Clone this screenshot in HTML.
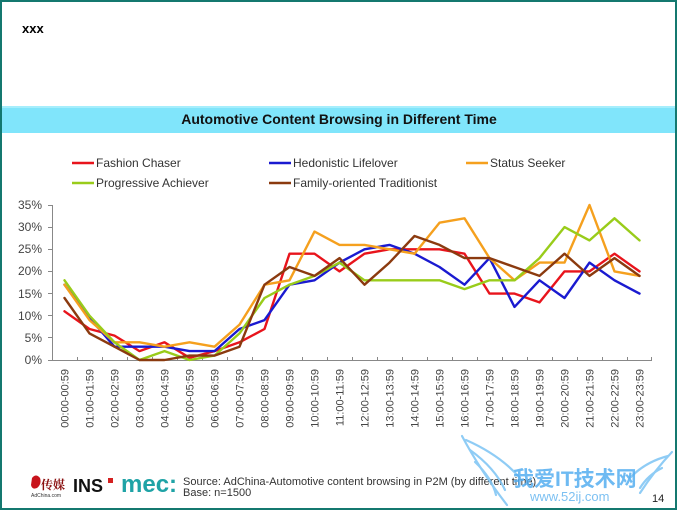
<!DOCTYPE html>
<html>
<head>
<meta charset="utf-8">
<style>
html,body{margin:0;padding:0;background:#fff;}
body{width:678px;height:511px;overflow:hidden;position:relative;}
svg{position:absolute;left:0;top:0;}
</style>
</head>
<body>
<svg width="678" height="511" viewBox="0 0 678 511" xmlns="http://www.w3.org/2000/svg" font-family="'Liberation Sans', Arial, sans-serif">
  <!-- page frame -->
  <rect x="0" y="0" width="678" height="511" fill="#ffffff"/>
  <rect x="1" y="1" width="675" height="508" fill="none" stroke="#14786f" stroke-width="2"/>

  <!-- header -->
  <text x="22" y="33" font-size="13" font-weight="bold" fill="#000">xxx</text>

  <!-- banner -->
  <rect x="2" y="106" width="673" height="27" fill="#80e5fb"/>
  <rect x="2" y="106" width="673" height="2" fill="#a6eefc"/>
  <text x="339" y="124" font-size="14" font-weight="bold" fill="#111" text-anchor="middle">Automotive Content Browsing in Different Time</text>

  <!-- legend -->
  <g font-size="12" fill="#333">
    <line x1="72" y1="163" x2="94" y2="163" stroke="#e8141c" stroke-width="2.5"/>
    <text x="96" y="167">Fashion Chaser</text>
    <line x1="269" y1="163" x2="291" y2="163" stroke="#1a1ad0" stroke-width="2.5"/>
    <text x="293" y="167">Hedonistic Lifelover</text>
    <line x1="466" y1="163" x2="488" y2="163" stroke="#f5a01e" stroke-width="2.5"/>
    <text x="490" y="167">Status Seeker</text>
    <line x1="72" y1="183" x2="94" y2="183" stroke="#99cc1a" stroke-width="2.5"/>
    <text x="96" y="187">Progressive Achiever</text>
    <line x1="269" y1="183" x2="291" y2="183" stroke="#8b3a0f" stroke-width="2.5"/>
    <text x="293" y="187">Family-oriented Traditionist</text>
  </g>

  <!-- y axis labels -->
  <g font-size="12" fill="#444" text-anchor="end">
    <text x="42" y="364">0%</text>
    <text x="42" y="342">5%</text>
    <text x="42" y="320">10%</text>
    <text x="42" y="298">15%</text>
    <text x="42" y="275">20%</text>
    <text x="42" y="253">25%</text>
    <text x="42" y="231">30%</text>
    <text x="42" y="209">35%</text>
  </g>

  <!-- axes -->
  <g stroke="#888" stroke-width="1">
    <line x1="52.5" y1="205" x2="52.5" y2="360"/>
    <line x1="52" y1="360.5" x2="652" y2="360.5"/>
    <line x1="48" y1="205.5" x2="52" y2="205.5"/>
    <line x1="48" y1="227.5" x2="52" y2="227.5"/>
    <line x1="48" y1="249.5" x2="52" y2="249.5"/>
    <line x1="48" y1="271.5" x2="52" y2="271.5"/>
    <line x1="48" y1="293.5" x2="52" y2="293.5"/>
    <line x1="48" y1="315.5" x2="52" y2="315.5"/>
    <line x1="48" y1="337.5" x2="52" y2="337.5"/>
    <line x1="48" y1="360.5" x2="52" y2="360.5"/>
    <path d="M77.5 357V361 M102.5 357V361 M127.5 357V361 M152.5 357V361 M177.5 357V361 M202.5 357V361 M227.5 357V361 M252.5 357V361 M277.5 357V361 M302.5 357V361 M327.5 357V361 M352.5 357V361 M377.5 357V361 M402.5 357V361 M427.5 357V361 M452.5 357V361 M477.5 357V361 M502.5 357V361 M527.5 357V361 M552.5 357V361 M577.5 357V361 M602.5 357V361 M627.5 357V361 M651.5 357V361"/>
  </g>

  <!-- x labels -->
  <g font-size="11" fill="#444" text-anchor="end">
    <text transform="translate(68.5,369) rotate(-90)">00:00-00:59</text>
    <text transform="translate(93.5,369) rotate(-90)">01:00-01:59</text>
    <text transform="translate(118.5,369) rotate(-90)">02:00-02:59</text>
    <text transform="translate(143.5,369) rotate(-90)">03:00-03:59</text>
    <text transform="translate(168.5,369) rotate(-90)">04:00-04:59</text>
    <text transform="translate(193.5,369) rotate(-90)">05:00-05:59</text>
    <text transform="translate(218.5,369) rotate(-90)">06:00-06:59</text>
    <text transform="translate(243.5,369) rotate(-90)">07:00-07:59</text>
    <text transform="translate(268.5,369) rotate(-90)">08:00-08:59</text>
    <text transform="translate(293.5,369) rotate(-90)">09:00-09:59</text>
    <text transform="translate(318.5,369) rotate(-90)">10:00-10:59</text>
    <text transform="translate(343.5,369) rotate(-90)">11:00-11:59</text>
    <text transform="translate(368.5,369) rotate(-90)">12:00-12:59</text>
    <text transform="translate(393.5,369) rotate(-90)">13:00-13:59</text>
    <text transform="translate(418.5,369) rotate(-90)">14:00-14:59</text>
    <text transform="translate(443.5,369) rotate(-90)">15:00-15:59</text>
    <text transform="translate(468.5,369) rotate(-90)">16:00-16:59</text>
    <text transform="translate(493.5,369) rotate(-90)">17:00-17:59</text>
    <text transform="translate(518.5,369) rotate(-90)">18:00-18:59</text>
    <text transform="translate(543.5,369) rotate(-90)">19:00-19:59</text>
    <text transform="translate(568.5,369) rotate(-90)">20:00-20:59</text>
    <text transform="translate(593.5,369) rotate(-90)">21:00-21:59</text>
    <text transform="translate(618.5,369) rotate(-90)">22:00-22:59</text>
    <text transform="translate(643.5,369) rotate(-90)">23:00-23:59</text>
  </g>

  <!-- series -->
  <g fill="none" stroke-width="2.4" stroke-linejoin="round" stroke-linecap="round">
    <polyline stroke="#e8141c" points="64.5,311.3 89.5,329 114.5,335.6 139.5,351.1 164.5,342.3 189.5,357.8 214.5,351.1 239.5,342.3 264.5,329 289.5,253.7 314.5,253.7 339.5,271.4 364.5,253.7 389.5,249.3 414.5,249.3 439.5,249.3 464.5,253.7 489.5,293.6 514.5,293.6 539.5,302.4 564.5,271.4 589.5,271.4 614.5,253.7 639.5,271.4"/>
    <polyline stroke="#1a1ad0" points="64.5,284.7 89.5,317.9 114.5,346.7 139.5,346.7 164.5,346.7 189.5,351.1 214.5,351.1 239.5,329 264.5,320.1 289.5,284.7 314.5,280.3 339.5,262.6 364.5,249.3 389.5,244.9 414.5,253.7 439.5,267 464.5,284.7 489.5,258.1 514.5,306.9 539.5,280.3 564.5,298 589.5,262.6 614.5,280.3 639.5,293.6"/>
    <polyline stroke="#f5a01e" points="64.5,284.7 89.5,320.1 114.5,342.3 139.5,342.3 164.5,346.7 189.5,342.3 214.5,346.7 239.5,324.6 264.5,284.7 289.5,280.3 314.5,231.6 339.5,244.9 364.5,244.9 389.5,249.3 414.5,253.7 439.5,222.7 464.5,218.3 489.5,258.1 514.5,280.3 539.5,262.6 564.5,262.6 589.5,205 614.5,271.4 639.5,275.9"/>
    <polyline stroke="#99cc1a" points="64.5,280.3 89.5,315.7 114.5,342.3 139.5,360 164.5,351.1 189.5,360 214.5,355.6 239.5,333.4 264.5,298 289.5,284.7 314.5,275.9 339.5,262.6 364.5,280.3 389.5,280.3 414.5,280.3 439.5,280.3 464.5,289.1 489.5,280.3 514.5,280.3 539.5,258.1 564.5,227.1 589.5,240.4 614.5,218.3 639.5,240.4"/>
    <polyline stroke="#8b3a0f" points="64.5,298 89.5,333.4 114.5,346.7 139.5,360 164.5,360 189.5,355.6 214.5,355.6 239.5,346.7 264.5,284.7 289.5,267 314.5,275.9 339.5,258.1 364.5,284.7 389.5,262.6 414.5,236 439.5,244.9 464.5,258.1 489.5,258.1 514.5,267 539.5,275.9 564.5,253.7 589.5,275.9 614.5,258.1 639.5,275.9"/>
  </g>

  <!-- footer logos -->
  <g>
    <path d="M32 478 q4 -5 8 0 q2 6 -3 10 q-5 2 -6 -3 z" fill="#c8141c"/>
    <text x="41" y="489" font-size="12" font-weight="bold" fill="#8a1010" font-family="'Liberation Serif','Noto Serif CJK SC',serif">传媒</text>
    <text x="31" y="497" font-size="5" fill="#333">AdChina.com</text>
    <text x="73" y="492" font-size="18" font-weight="bold" fill="#111">INS</text>
    <rect x="108" y="478" width="5" height="5" fill="#d42020"/>
    <text x="121" y="492" font-size="24" font-weight="bold" fill="#1fa3a6">mec:</text>
  </g>
  <g font-size="11" fill="#333">
    <text x="183" y="485">Source: AdChina-Automotive content browsing in P2M (by different time)</text>
    <text x="183" y="496">Base: n=1500</text>
  </g>

  <!-- watermark -->
  <g fill="none" stroke="#7cc4f4" stroke-width="2.2" opacity="0.85" stroke-linecap="round">
    <path d="M462 436 Q480 470 507 505"/>
    <path d="M466 440 Q500 455 520 478"/>
    <path d="M470 450 Q495 468 505 490"/>
    <path d="M475 462 Q492 478 496 495"/>
    <path d="M672 452 Q655 470 640 493"/>
    <path d="M668 456 Q645 462 630 478"/>
    <path d="M662 468 Q648 475 640 488"/>
  </g>
  <text x="513" y="486" font-size="21" font-weight="bold" fill="#55aef0" opacity="0.85" font-family="'Liberation Sans','Noto Sans CJK SC',sans-serif">我爱IT技术网</text>
  <text x="530" y="501" font-size="13" fill="#66b6f0" opacity="0.85">www.52ij.com</text>

  <text x="652" y="502" font-size="11" fill="#222">14</text>
</svg>
</body>
</html>
